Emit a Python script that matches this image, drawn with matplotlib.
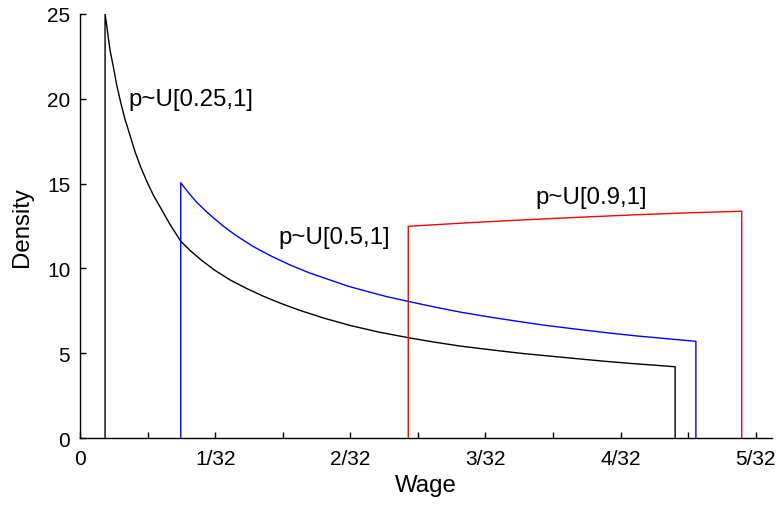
import matplotlib
matplotlib.use("Agg")
import matplotlib.pyplot as plt
from matplotlib.ticker import MultipleLocator

plt.rcParams['font.family'] = ['Liberation Sans', 'DejaVu Sans']

# p~U[0.25,1]  (black)
wage_a = [0.0058, 0.0058, 0.0062, 0.0066, 0.0070, 0.0077, 0.0085, 0.0094, 0.0104,
          0.0115, 0.0127, 0.0140, 0.0155, 0.0170, 0.0188, 0.0208, 0.0233, 0.0255,
          0.0280, 0.0310, 0.0347, 0.0385, 0.0423, 0.0465, 0.0509, 0.0565, 0.0624,
          0.0690, 0.0758, 0.0820, 0.0879, 0.0950, 0.1017, 0.1090, 0.1156, 0.1215,
          0.1272, 0.1325, 0.1376, 0.1376]
dens_a = [0.0, 25.0, 24.3, 23.5, 22.8, 21.9, 20.8, 19.8, 18.8,
          17.9, 16.9, 16.0, 15.1, 14.3, 13.5, 12.6, 11.6, 11.05,
          10.5, 9.92, 9.32, 8.82, 8.37, 7.93, 7.52, 7.06, 6.64,
          6.25, 5.92, 5.65, 5.42, 5.2, 5.0, 4.82, 4.66, 4.52,
          4.4, 4.3, 4.2, 0.0]

# p~U[0.5,1]  (blue)
wage_b = [0.0233, 0.0233, 0.0245, 0.0258, 0.0270, 0.0290, 0.0310, 0.0331, 0.0360,
          0.0400, 0.0440, 0.0486, 0.0530, 0.0580, 0.0620, 0.0670, 0.0710, 0.0758,
          0.0820, 0.0880, 0.0950, 0.1017, 0.1080, 0.1150, 0.1220, 0.1290, 0.1360,
          0.1424, 0.1424]
dens_b = [0.0, 15.05, 14.65, 14.25, 13.9, 13.4, 12.95, 12.5, 11.95,
          11.3, 10.75, 10.2, 9.74, 9.3, 8.95, 8.6, 8.33, 8.06,
          7.72, 7.42, 7.12, 6.86, 6.63, 6.41, 6.2, 6.01, 5.85,
          5.70, 0.0]

# p~U[0.9,1]  (red)
wage_c = [0.0759, 0.0759, 0.0890, 0.1017, 0.1150, 0.1275, 0.1400, 0.1530, 0.1530]
dens_c = [0.0, 12.48, 12.68, 12.85, 13.01, 13.15, 13.27, 13.37, 0.0]

tick_vals = [0, 1/32, 2/32, 3/32, 4/32, 5/32]
tick_labels = ['0', '1/32', '2/32', '3/32', '4/32', '5/32']

fig = plt.figure(figsize=(7.78, 5.06), dpi=100)
ax = fig.add_axes([0.1028, 0.1324, 0.8895, 0.8380])

ax.plot(wage_a, dens_a, color='black', lw=1.0)
ax.plot(wage_b, dens_b, color='#0000ff', lw=1.0)
ax.plot(wage_c, dens_c, color='#ff0000', lw=1.0)

ax.text(0.0111, 20.0, 'p~U[0.25,1]', fontsize=17.3, ha='left', va='center')
ax.text(0.0458, 11.85, 'p~U[0.5,1]', fontsize=17.3, ha='left', va='center')
ax.text(0.1052, 14.2, 'p~U[0.9,1]', fontsize=17.3, ha='left', va='center')

ax.set_xlim(0, 0.16)
ax.set_ylim(0, 25)
ax.set_xticks(tick_vals)
ax.set_xticklabels(tick_labels)
ax.xaxis.set_minor_locator(MultipleLocator(1/64))
ax.set_yticks([0, 5, 10, 15, 20, 25])

for s in ['top', 'right']:
    ax.spines[s].set_visible(False)
for s in ['left', 'bottom']:
    ax.spines[s].set_linewidth(1.0)

ax.tick_params(which='both', direction='in', length=4.5, width=1.0, labelsize=15)
ax.tick_params(axis='x', pad=8)
ax.tick_params(axis='y', pad=7)
ax.set_xlabel('Wage', fontsize=17.3, labelpad=4)
ax.set_ylabel('Density', fontsize=17.3, labelpad=10)

fig.savefig('out.png', dpi=100)
